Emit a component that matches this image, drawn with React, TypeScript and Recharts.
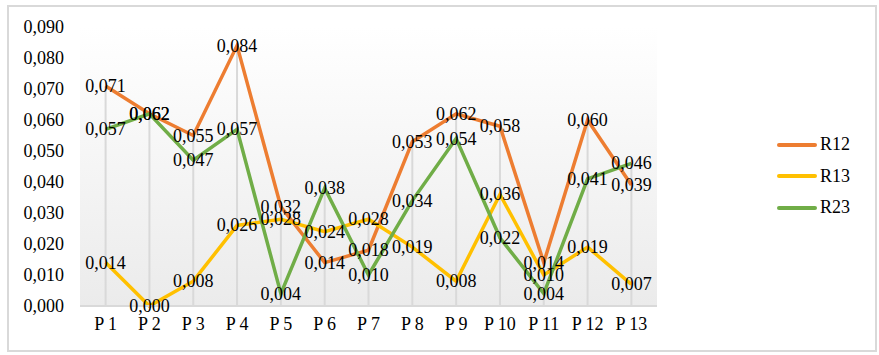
import { LineChart, Line, XAxis, YAxis, CartesianGrid, ReferenceLine, LabelList, Legend } from "recharts";

const categories = ["P 1", "P 2", "P 3", "P 4", "P 5", "P 6", "P 7", "P 8", "P 9", "P 10", "P 11", "P 12", "P 13"];
const r12 = [0.071, 0.062, 0.055, 0.084, 0.032, 0.014, 0.018, 0.053, 0.062, 0.058, 0.014, 0.06, 0.039];
const r13 = [0.014, 0.0, 0.008, 0.026, 0.028, 0.024, 0.028, 0.019, 0.008, 0.036, 0.01, 0.019, 0.007];
const r23 = [0.057, 0.062, 0.047, 0.057, 0.004, 0.038, 0.01, 0.034, 0.054, 0.022, 0.004, 0.041, 0.046];
const yTicks = [0, 0.01, 0.02, 0.03, 0.04, 0.05, 0.06, 0.07, 0.08, 0.09];

const series = [
  { key: "R12", color: "#ED7D31" },
  { key: "R13", color: "#FFC000" },
  { key: "R23", color: "#70AD47" },
];

const data = categories.map((name, i) => ({
  name,
  R12: r12[i],
  R13: r13[i],
  R23: r23[i],
  top: Math.max(r12[i], r13[i], r23[i]),
}));

const FONT = '"Liberation Serif", "Times New Roman", serif';
const SIZE = 18;
const fmt = (v: number) => v.toFixed(3).replace(".", ",");

const CenterLabel = (props: any) => {
  const { x, y, value } = props;
  if (x == null || y == null) return null;
  return (
    <text x={x} y={y} textAnchor="middle" dominantBaseline="central" fill="#000" fontSize={SIZE} fontFamily={FONT}>
      {fmt(value)}
    </text>
  );
};

const LegendBox = () => (
  <div style={{ fontFamily: FONT, fontSize: SIZE, color: "#000" }}>
    {series.map((s) => (
      <div key={s.key} style={{ display: "flex", alignItems: "center", height: 31.5 }}>
        <span style={{ display: "inline-block", width: 40, height: 4, borderRadius: 2, background: s.color, marginRight: 3 }} />
        <span>{s.key}</span>
      </div>
    ))}
  </div>
);

export default function App() {
  return (
    <div style={{ position: "absolute", left: 0, top: 0, width: 879, height: 355, background: "#fff" }}>
      <div
        style={{
          position: "absolute",
          left: 7,
          top: 5,
          width: 866,
          height: 343,
          border: "2px solid #d9d9d9",
        }}
      />
      <div style={{ position: "absolute", left: 0, top: 0 }}>
        <LineChart width={879} height={355} data={data} margin={{ top: 27, right: 132, bottom: 19, left: 8 }}>
          <defs>
            <linearGradient id="plotBg" x1="0" y1="0" x2="0" y2="1">
              <stop offset="0%" stopColor="#ffffff" />
              <stop offset="100%" stopColor="#ebebeb" />
            </linearGradient>
          </defs>
          <CartesianGrid horizontal={false} vertical={false} fill="url(#plotBg)" />
          <XAxis
            dataKey="name"
            padding={{ left: 25.6, right: 25.6 }}
            tickLine={false}
            tickSize={0}
            tickMargin={11}
            height={30}
            axisLine={{ stroke: "#d9d9d9", strokeWidth: 2 }}
            tick={{ fill: "#000", fontSize: SIZE, fontFamily: FONT }}
            interval={0}
          />
          <YAxis
            domain={[0, 0.09]}
            ticks={yTicks}
            width={72}
            axisLine={false}
            tickLine={false}
            tickSize={0}
            tickMargin={16}
            tickFormatter={fmt}
            tick={{ fill: "#000", fontSize: SIZE, fontFamily: FONT }}
          />
          {data.map((d) => (
            <ReferenceLine
              key={d.name}
              segment={[
                { x: d.name, y: 0 },
                { x: d.name, y: d.top },
              ]}
              stroke="#d9d9d9"
              strokeWidth={2}
            />
          ))}
          <Legend
            layout="vertical"
            align="right"
            verticalAlign="top"
            content={<LegendBox />}
            wrapperStyle={{ position: "absolute", left: 777, top: 129, width: 90 }}
          />
          {series.map((s) => (
            <Line
              key={s.key}
              type="linear"
              dataKey={s.key}
              stroke={s.color}
              strokeWidth={3.5}
              dot={false}
              activeDot={false}
              isAnimationActive={false}
            >
              <LabelList dataKey={s.key} content={<CenterLabel />} />
            </Line>
          ))}
        </LineChart>
      </div>
    </div>
  );
}
